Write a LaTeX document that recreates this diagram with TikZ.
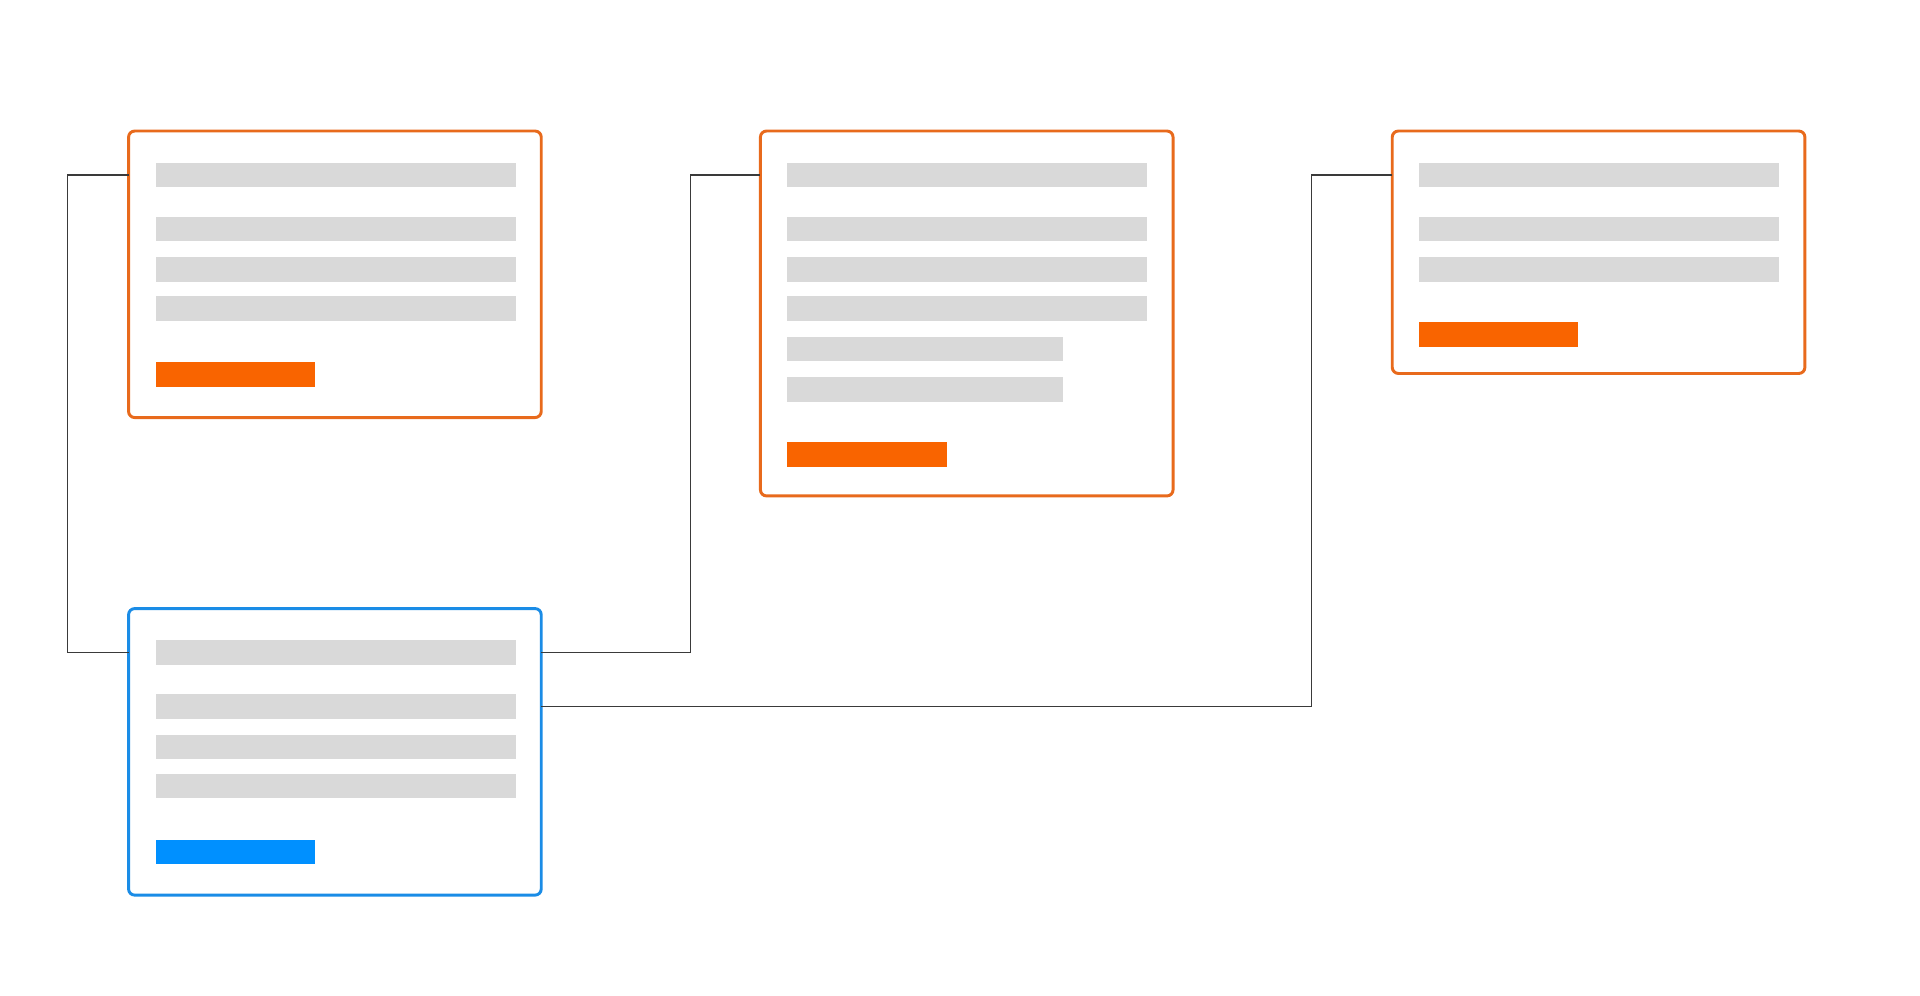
\documentclass[tikz,border=0pt]{standalone}
\usepackage{xcolor}
\usetikzlibrary{positioning}

\definecolor{cardorange}{HTML}{E86A1C}
\definecolor{btnorange}{HTML}{F96400}
\definecolor{cardblue}{HTML}{1A8CE6}
\definecolor{btnblue}{HTML}{0090FF}
\definecolor{bargray}{HTML}{D9D9D9}
\definecolor{wire}{HTML}{3A3A3A}

\tikzset{
  card/.style={draw=#1, line width=1.2pt, rounded corners=2.5pt, fill=white,
    anchor=north west, minimum width=168.5pt, inner sep=0pt, outer sep=0pt},
  bar/.style={fill=bargray, anchor=north west, minimum width=#1,
    minimum height=10pt, inner sep=0pt, outer sep=0pt},
  bar/.default=147pt,
  button/.style={fill=#1, anchor=north west, minimum width=65pt,
    minimum height=10pt, inner sep=0pt, outer sep=0pt},
  link/.style={draw=wire, line width=0.6pt}
}

\begin{document}
\begin{tikzpicture}[x=0.5pt, y=-0.5pt]
  \useasboundingbox (0,0) rectangle (1568,813.4);

  % Cards
  \node[card=cardorange, minimum height=117pt] (A) at (105,107) {};
  \node[card=cardorange, minimum height=149pt] (B) at (621,107) {};
  \node[card=cardorange, minimum height=99pt] (C) at (1137,107) {};
  \node[card=cardblue, minimum height=117pt] (D) at (105,497) {};

  % Placeholder lines
  \foreach \i/\y in {1/133,2/177,3/210,4/242}{
    \node[bar] (A\i) at (127,\y) {};
    \node[bar] (B\i) at (643,\y) {};
    \node[bar] (D\i) at (127,\y+390) {};
  }
  \foreach \i/\y in {5/275,6/308}{
    \node[bar=112.5pt] (B\i) at (643,\y) {};
  }
  \foreach \i/\y in {1/133,2/177,3/210}{
    \node[bar] (C\i) at (1159,\y) {};
  }

  % Buttons
  \node[button=btnorange] (Abtn) at (127,296) {};
  \node[button=btnorange] (Bbtn) at (643,361) {};
  \node[button=btnorange] (Cbtn) at (1159,263) {};
  \node[button=btnblue] (Dbtn) at (127,686) {};

  % Connectors
  \coordinate (jA) at (55,143);
  \coordinate (jB) at (564,143);
  \coordinate (jC) at (1071,143);
  \draw[link] (D.west |- D1) -| (jA) -- (A.west |- A1);
  \draw[link] (D.east |- D1) -| (jB) -- (B.west |- B1);
  \draw[link] (D.east |- D2) -| (jC) -- (C.west |- C1);
\end{tikzpicture}
\end{document}
